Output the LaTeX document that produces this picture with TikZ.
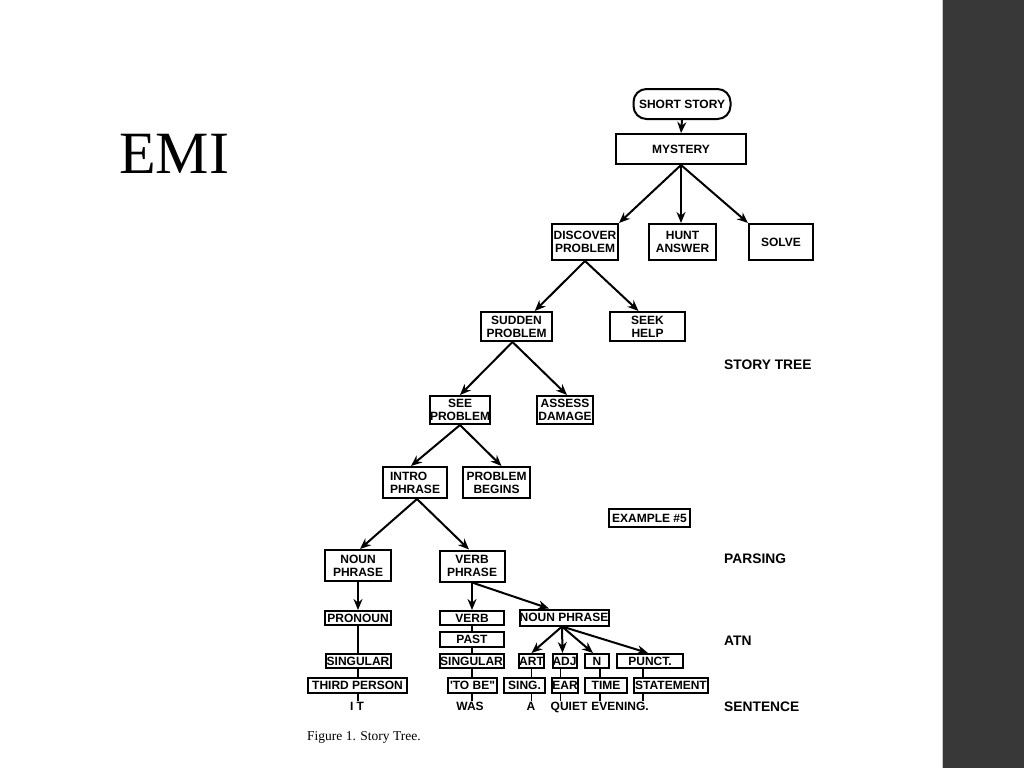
\documentclass[tikz,border=0pt]{standalone}
\usepackage{fontspec}
\newfontfamily\boxfont{Liberation Sans}
\newfontfamily\capfont{Liberation Serif}
\usetikzlibrary{arrows.meta,calc}
\definecolor{darkbar}{HTML}{383838}
\tikzset{
  bx/.style={draw, line width=2pt, inner sep=0pt, align=center,
    font=\boxfont\bfseries\fontsize{12}{13}\selectfont},
  wd/.style={inner sep=0pt, anchor=base, font=\boxfont\bfseries\fontsize{12}{13}\selectfont},
  lab/.style={inner sep=0pt, anchor=base west, font=\boxfont\bfseries\fontsize{13.8}{15}\selectfont},
  arr/.style={line width=2pt, -{Stealth[length=11pt,width=9pt]}},
  ln/.style={line width=1.8pt}
}
\begin{document}
\begin{tikzpicture}[x=1pt,y=-1pt]
\useasboundingbox (0,0) rectangle (1024,768);
\fill[white] (0,0) rectangle (1024,768);
\fill[darkbar] (943,0) rectangle (1024,768);
\draw[gray!45, line width=1pt] (942.5,0) -- (942.5,768);

\node[anchor=base west, inner sep=0pt, font=\capfont\fontsize{60}{62}\selectfont] (emi) at (119,173) {EMI};

% story tree
\node[bx, rounded corners=13pt, minimum width=97pt, minimum height=30pt] (ss) at (682,104) {SHORT STORY};
\node[bx, minimum width=130pt, minimum height=30pt] (myst) at (681,149) {MYSTERY};
\node[bx, minimum width=66pt, minimum height=36pt] (disc) at (585,242) {DISCOVER\\PROBLEM};
\node[bx, minimum width=67pt, minimum height=36pt] (hunt) at (682.5,242) {HUNT\\ANSWER};
\node[bx, minimum width=64pt, minimum height=36pt] (solve) at (781,242) {SOLVE};
\node[bx, minimum width=71pt, minimum height=29pt] (sud) at (516.5,326.5) {SUDDEN\\PROBLEM};
\node[bx, minimum width=75pt, minimum height=29pt] (seek) at (647.5,326.5) {SEEK\\HELP};
\node[bx, minimum width=56pt, minimum height=28pt] (see) at (460,410) {SEE\\PROBLEM};
\node[bx, minimum width=56pt, minimum height=28pt] (ass) at (565,410) {ASSESS\\DAMAGE};
\node[bx, align=left, minimum width=64pt, minimum height=31pt] (intro) at (415,482.5) {INTRO\\PHRASE};
\node[bx, minimum width=67pt, minimum height=31pt] (pb) at (496.5,482.5) {PROBLEM\\BEGINS};
\node[bx, minimum width=81pt, minimum height=18pt] (ex) at (649.5,518) {EXAMPLE \#5};
\node[bx, minimum width=66pt, minimum height=31pt] (np) at (358,565.5) {NOUN\\PHRASE};
\node[bx, minimum width=65pt, minimum height=31pt] (vp) at (472,566) {VERB\\PHRASE};

% parsing / ATN
\node[bx, minimum width=66pt, minimum height=14pt] (pron) at (358,618) {PRONOUN};
\node[bx, minimum width=64pt, minimum height=14pt] (verb) at (472,618) {VERB};
\node[bx, minimum width=89pt, minimum height=16pt] (np2) at (564,617.5) {NOUN PHRASE};
\node[bx, minimum width=64pt, minimum height=15pt] (past) at (472,639.5) {PAST};
\node[bx, minimum width=65pt, minimum height=14pt] (sing1) at (358,661) {SINGULAR};
\node[bx, minimum width=64pt, minimum height=14pt] (singv) at (471.5,661) {SINGULAR};
\node[bx, minimum width=25pt, minimum height=14pt] (art) at (531.5,661) {ART};
\node[bx, minimum width=24pt, minimum height=14pt] (adj) at (564.5,661) {ADJ};
\node[bx, minimum width=24pt, minimum height=14pt] (nn) at (597,661) {N};
\node[bx, minimum width=66pt, minimum height=14pt] (punct) at (650,661) {PUNCT.};
\node[bx, minimum width=99pt, minimum height=15pt] (third) at (357.5,685.5) {THIRD PERSON};
\node[bx, minimum width=49pt, minimum height=15pt] (tobe) at (472.5,685.5) {'TO BE"};
\node[bx, minimum width=41pt, minimum height=15pt] (sing2) at (524.5,685.5) {SING.};
\node[bx, minimum width=24pt, minimum height=15pt] (ear) at (565,685.5) {EAR};
\node[bx, minimum width=42pt, minimum height=15pt] (time) at (606,685.5) {TIME};
\node[bx, minimum width=74pt, minimum height=15pt] (stmt) at (671,685.5) {STATEMENT};

% sentence words
\node[wd] (it) at (357,710.5) {I\hspace{3pt}T};
\node[wd] (was) at (470,710.5) {WAS};
\node[wd] (wa) at (531,710.5) {A};
\node[wd] (quiet) at (569,710.5) {QUIET};
\node[wd] (eve) at (620,710.5) {EVENING.};
\coordinate (wtop) at (0,701);

% right labels
\node[lab] (l1) at (724,369) {STORY TREE};
\node[lab] (l2) at (724,563) {PARSING};
\node[lab] (l3) at (724,645) {ATN};
\node[lab] (l4) at (724,711) {SENTENCE};

\node[anchor=base west, inner sep=0pt, font=\capfont\fontsize{13.5}{15}\selectfont] (cap) at (307,740) {Figure 1. Story Tree.};

% arrows
\draw[arr] (ss.south) -- (myst.north);
\draw[arr] (myst.south) -- (disc.north east);
\draw[arr] (myst.south) -- (myst.south |- hunt.north);
\draw[arr] (myst.south) -- (solve.north west);
\draw[arr] (disc.south) -- ($(sud.north)!0.5!(sud.north east)$);
\draw[arr] (disc.south) -- ([xshift=-9pt]seek.north);
\draw[arr] ([xshift=-4pt]sud.south) -- (see.north);
\draw[arr] ([xshift=-4pt]sud.south) -- ([xshift=2pt]ass.north);
\draw[arr] (see.south) -- ([xshift=-4pt]intro.north);
\draw[arr] (see.south) -- ([xshift=5pt]pb.north);
\draw[arr] ([xshift=2pt]intro.south) -- ([xshift=2pt]np.north);
\draw[arr] ([xshift=2pt]intro.south) -- ([xshift=-3pt]vp.north);
\draw[arr] (np.south) -- (pron.north);
\draw[arr] (vp.south) -- (verb.north);
\draw[arr] (vp.south) -- ([xshift=-15pt]np2.north);
\draw[arr] ([xshift=-2pt]np2.south) -- (art.north);
\draw[arr] ([xshift=-2pt]np2.south) -- ([xshift=-2pt]adj.north);
\draw[arr] ([xshift=-2pt]np2.south) -- ([xshift=-4pt]nn.north);
\draw[arr] ([xshift=-2pt]np2.south) -- ([xshift=-2pt]punct.north);

% plain lines
\draw[ln] (pron.south) -- (pron.south |- sing1.north);
\draw[ln] (pron.south |- sing1.south) -- (pron.south |- third.north);
\draw[ln] (pron.south |- third.south) -- (pron.south |- wtop);
\draw[ln] (verb.south) -- (past.north);
\draw[ln] (past.south) -- (past.south |- singv.north);
\draw[ln] (past.south |- singv.south) -- (past.south |- tobe.north);
\draw[ln] (past.south |- tobe.south) -- (past.south |- wtop);
\draw[ln] (art.south) -- (art.south |- sing2.north);
\draw[ln] (art.south |- sing2.south) -- (art.south |- wtop);
\draw[ln] ([xshift=-4pt]adj.south) -- ([xshift=-4pt]adj.south |- ear.north);
\draw[ln] ([xshift=-4pt]adj.south |- ear.south) -- ([xshift=-4pt]adj.south |- wtop);
\draw[ln] ([xshift=3pt]nn.south) -- ([xshift=3pt]nn.south |- time.north);
\draw[ln] ([xshift=3pt]nn.south |- time.south) -- ([xshift=3pt]nn.south |- wtop);
\draw[ln] ([xshift=-7pt]punct.south) -- ([xshift=-7pt]punct.south |- stmt.north);
\draw[ln] ([xshift=-7pt]punct.south |- stmt.south) -- ([xshift=-7pt]punct.south |- wtop);
\end{tikzpicture}
\end{document}
